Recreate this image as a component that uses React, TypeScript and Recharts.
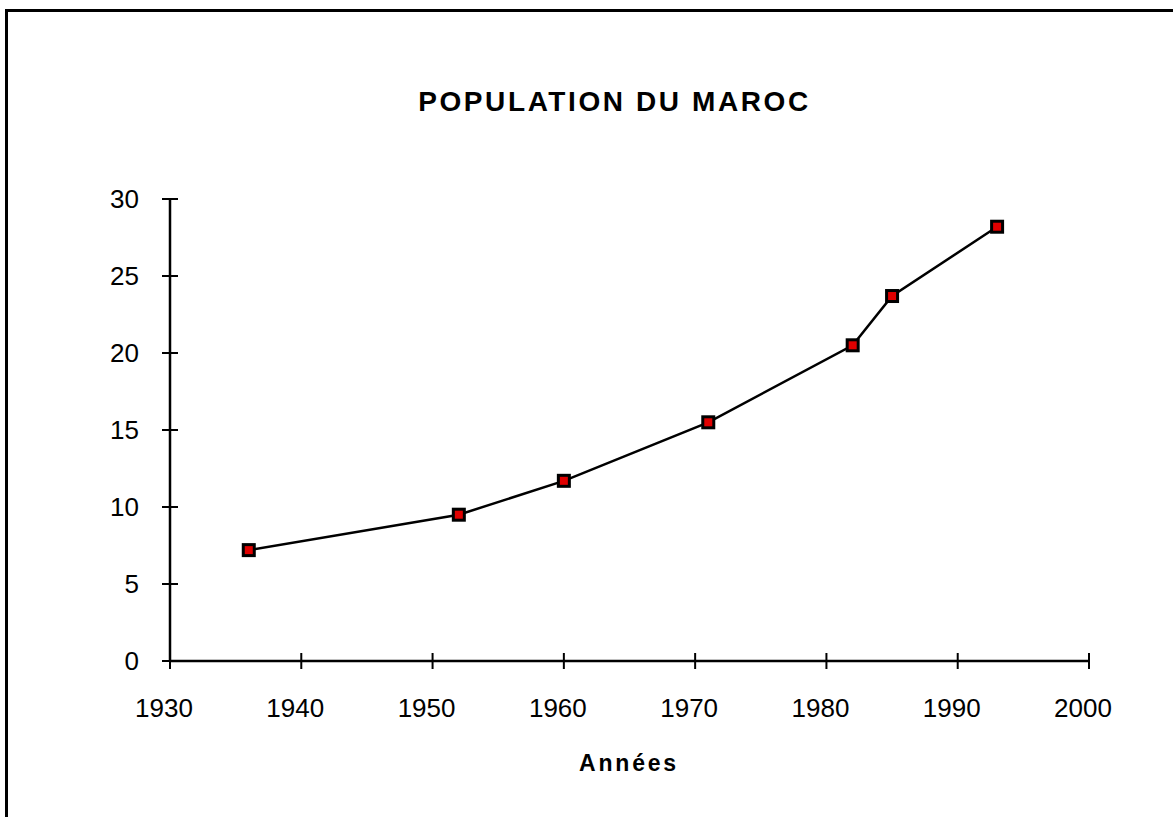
import React from 'react';
import { LineChart, Line, XAxis, YAxis } from 'recharts';

const years = [1936, 1952, 1960, 1971, 1982, 1985, 1993];
const population = [7.2, 9.5, 11.7, 15.5, 20.5, 23.7, 28.2];
const xTicks = [1930, 1940, 1950, 1960, 1970, 1980, 1990, 2000];
const yTicks = [0, 5, 10, 15, 20, 25, 30];

const data = years.map((year, i) => ({ year, pop: population[i] }));

const FONT = '"Liberation Sans", Arial, sans-serif';
const TICK_SIZE = 8;
const X_MARGIN = 30;
const Y_MARGIN = 23;

// ticks in the original cross the axis line, so draw them by hand
const XTick = (props: any) => {
  const { x, y, payload } = props;
  const axisY = y - X_MARGIN - TICK_SIZE;
  return (
    <g>
      <line x1={x} x2={x} y1={axisY - 8} y2={axisY + 8} stroke="#000" strokeWidth={2} />
      <text x={x - 6} y={y} dy="0.71em" textAnchor="middle" fontSize={26} fontFamily={FONT} fill="#000">
        {payload.value}
      </text>
    </g>
  );
};

const YTick = (props: any) => {
  const { x, y, payload } = props;
  const axisX = x + Y_MARGIN + TICK_SIZE;
  return (
    <g>
      <line x1={axisX - 8} x2={axisX + 8} y1={y} y2={y} stroke="#000" strokeWidth={2} />
      <text x={x} y={y} dy="0.355em" textAnchor="end" fontSize={26} fontFamily={FONT} fill="#000">
        {payload.value}
      </text>
    </g>
  );
};

const SquareDot = (props: any) => {
  const { cx, cy, index } = props;
  if (cx == null || cy == null) return null;
  return (
    <rect key={index} x={cx - 5.5} y={cy - 5.5} width={11} height={11} fill="#e00000" stroke="#000" strokeWidth={3} />
  );
};

export default function App() {
  return (
    <div style={{ position: 'fixed', left: 0, top: 0, width: 1173, height: 817, background: '#fff', overflow: 'hidden' }}>
      <div
        style={{
          position: 'absolute',
          left: 5,
          top: 9,
          width: 1200,
          height: 900,
          borderLeft: '3px solid #000',
          borderTop: '3px solid #000',
        }}
      />
      <div
        style={{
          position: 'absolute',
          left: 0,
          width: 1229,
          top: 88,
          textAlign: 'center',
          fontFamily: FONT,
          fontWeight: 'bold',
          fontSize: 28,
          lineHeight: '28px',
          letterSpacing: 2.6,
          color: '#000',
        }}
      >
        POPULATION DU MAROC
      </div>
      <div style={{ position: 'absolute', left: 0, top: 0 }}>
        <LineChart
          width={1173}
          height={817}
          data={data}
          margin={{ top: 199, right: 84, bottom: 96, left: 110 }}
        >
          <XAxis
            dataKey="year"
            type="number"
            domain={[1930, 2000]}
            ticks={xTicks}
            height={60}
            tickSize={TICK_SIZE}
            tickMargin={X_MARGIN}
            tickLine={false}
            axisLine={{ stroke: '#000', strokeWidth: 2.5 }}
            tick={<XTick />}
            interval={0}
          />
          <YAxis
            type="number"
            domain={[0, 30]}
            ticks={yTicks}
            width={60}
            tickSize={TICK_SIZE}
            tickMargin={Y_MARGIN}
            tickLine={false}
            axisLine={{ stroke: '#000', strokeWidth: 2.5 }}
            tick={<YTick />}
            interval={0}
          />
          <Line
            type="linear"
            dataKey="pop"
            stroke="#000"
            strokeWidth={2.5}
            dot={<SquareDot />}
            activeDot={false}
            isAnimationActive={false}
          />
        </LineChart>
      </div>
      <div
        style={{
          position: 'absolute',
          left: 529,
          width: 200,
          top: 752,
          textAlign: 'center',
          fontFamily: FONT,
          fontWeight: 'bold',
          fontSize: 23,
          lineHeight: '23px',
          letterSpacing: 2.8,
          color: '#000',
        }}
      >
        Années
      </div>
    </div>
  );
}
